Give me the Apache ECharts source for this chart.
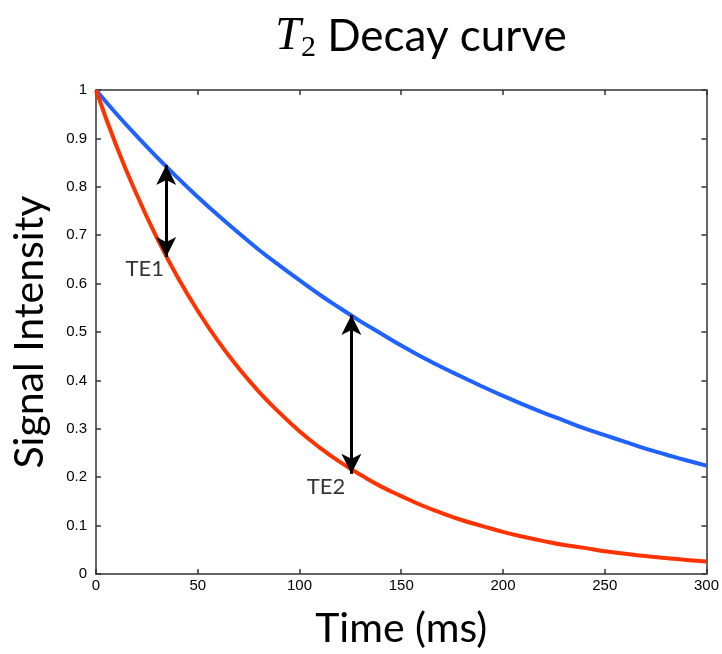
<!DOCTYPE html>
<html>
<head>
<meta charset="utf-8">
<script src="https://cdn.jsdelivr.net/npm/echarts@6/dist/echarts.min.js"></script>
<style>
  html, body { margin: 0; padding: 0; background: #fff; }
  #main { width: 722px; height: 654px; }
</style>
</head>
<body>
<div id="main"></div>
<script>
// time axis (ms)
var times = [0, 10, 20, 30, 40, 50, 60, 70, 80, 90, 100, 110, 120, 130, 140, 150,
  160, 170, 180, 190, 200, 210, 220, 230, 240, 250, 260, 270, 280, 290, 300];
// long T2 (blue)
var slowDecay = [1, 0.951, 0.905, 0.861, 0.819, 0.779, 0.741, 0.705, 0.670, 0.638, 0.607,
  0.577, 0.549, 0.522, 0.497, 0.472, 0.449, 0.427, 0.407, 0.387, 0.368,
  0.350, 0.333, 0.317, 0.301, 0.287, 0.273, 0.259, 0.247, 0.235, 0.224];
// short T2 (red)
var fastDecay = [1, 0.885, 0.784, 0.694, 0.614, 0.544, 0.481, 0.426, 0.377, 0.334, 0.295,
  0.261, 0.231, 0.205, 0.181, 0.161, 0.142, 0.126, 0.111, 0.099, 0.087,
  0.077, 0.068, 0.060, 0.054, 0.047, 0.042, 0.037, 0.033, 0.029, 0.026];
// echo time arrows: [x, yLow, yHigh]
var te1 = [34.5, 0.655, 0.845];
var te2 = [125.5, 0.207, 0.535];
var teLabels = [['TE1', 24, 0.63], ['TE2', 113, 0.18]];

function pairs(xs, ys) {
  var out = [];
  for (var i = 0; i < xs.length; i++) out.push([xs[i], ys[i]]);
  return out;
}

var axisCol = '#333';
var tickFont = { color: '#000', fontSize: 15, fontFamily: 'Liberation Sans' };
var line = { show: true, onZero: false, lineStyle: { color: axisCol, width: 1.5 } };
var tick = { show: true, inside: true, length: 5, lineStyle: { color: axisCol, width: 1.5 } };

var myChart = echarts.init(document.getElementById('main'));
var option = {
  animation: false,
  title: {
    text: '{t|T}{s|2}{d| Decay curve}',
    left: 416,
    textAlign: 'center',
    top: 6,
    textStyle: {
      fontWeight: 'normal',
      rich: {
        t: { fontFamily: 'Liberation Serif', fontStyle: 'italic', fontWeight: 'normal', fontSize: 46, color: '#000' },
        s: { fontFamily: 'Liberation Serif', fontWeight: 'normal', fontSize: 30, color: '#000', padding: [22, 0, 0, 0] },
        d: { fontFamily: 'Lato', fontWeight: 'normal', fontSize: 44, color: '#000' }
      }
    }
  },
  grid: { left: 96, right: 15, top: 90, bottom: 80 },
  xAxis: [{
    type: 'value',
    min: 0, max: 300, interval: 50,
    name: 'Time (ms)',
    nameLocation: 'middle',
    nameGap: 34,
    nameTextStyle: { fontFamily: 'Lato', fontSize: 41, color: '#000' },
    axisLine: line,
    axisTick: tick,
    axisLabel: Object.assign({ margin: 4 }, tickFont),
    splitLine: { show: false }
  }, {
    type: 'value',
    position: 'top',
    min: 0, max: 300, interval: 50,
    axisLine: line,
    axisTick: tick,
    axisLabel: { show: false },
    splitLine: { show: false }
  }],
  yAxis: [{
    type: 'value',
    min: 0, max: 1, interval: 0.1,
    name: 'Signal Intensity',
    nameLocation: 'middle',
    nameGap: 46,
    nameTextStyle: { fontFamily: 'Lato', fontSize: 41, color: '#000' },
    axisLine: line,
    axisTick: tick,
    axisLabel: Object.assign({ margin: 9 }, tickFont),
    splitLine: { show: false }
  }, {
    type: 'value',
    position: 'right',
    min: 0, max: 1, interval: 0.1,
    axisLine: line,
    axisTick: tick,
    axisLabel: { show: false },
    splitLine: { show: false }
  }],
  series: [
    {
      // keeps the top and right frame axes in use
      name: 'frame',
      type: 'line',
      xAxisIndex: 1,
      yAxisIndex: 1,
      data: pairs(times, slowDecay),
      showSymbol: false,
      silent: true,
      lineStyle: { opacity: 0 }
    },
    {
      name: 'slow',
      type: 'line',
      data: pairs(times, slowDecay),
      smooth: true,
      showSymbol: false,
      lineStyle: { color: '#1f62ff', width: 4 }
    },
    {
      name: 'fast',
      type: 'line',
      data: pairs(times, fastDecay),
      smooth: true,
      showSymbol: false,
      lineStyle: { color: '#ff3300', width: 4 },
      markLine: {
        silent: true,
        symbol: ['arrow', 'arrow'],
        symbolSize: [15, 20],
        label: { show: false },
        lineStyle: { color: '#000', width: 3, type: 'solid' },
        data: [
          [{ coord: [te1[0], te1[1]] }, { coord: [te1[0], te1[2]] }],
          [{ coord: [te2[0], te2[1]] }, { coord: [te2[0], te2[2]] }]
        ]
      }
    },
    {
      name: 'labels',
      type: 'scatter',
      symbolSize: 0,
      data: teLabels.map(function (d) { return { value: [d[1], d[2]], name: d[0] }; }),
      label: {
        show: true,
        position: 'inside',
        formatter: '{b}',
        fontFamily: 'Lato',
        fontSize: 22,
        color: '#000'
      }
    }
  ]
};
myChart.setOption(option);
</script>
</body>
</html>
